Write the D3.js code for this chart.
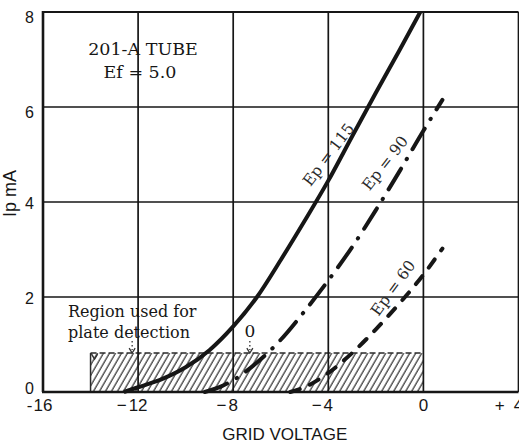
<!DOCTYPE html>
<html>
<head>
<meta charset="utf-8">
<script src="https://cdn.jsdelivr.net/npm/d3@7"></script>
<style>
  html, body { margin: 0; padding: 0; background: #fff; overflow: hidden; }
  svg { display: block; }
</style>
</head>
<body>
<svg id="chart" width="519" height="443"></svg>
<script>
// 201-A triode: plate current (mA) against grid voltage for three plate voltages

const gridTicks = [-16, -12, -8, -4, 0, 4];
const gridSigns = ["-", "−", "−", "−", "", "+"];
const gridDigits = ["16", "12", "8", "4", "0", "4"];
const ipTicks = [0, 2, 4, 6, 8];
const ipTickLabels = ["0", "2", "4", "6", "8"];

// Ep = 115 V (solid)
const ep115Grid = [-12.6, -12, -11, -10, -9, -8, -7, -6, -5, -4, -3, -2, -1, -0.13];
const ep115Ip   = [0, 0.1, 0.27, 0.52, 0.88, 1.38, 2.0, 2.78, 3.6, 4.45, 5.38, 6.3, 7.2, 8];

// Ep = 90 V (dash-dot)
const ep90Grid = [-9.2, -8.5, -8, -7, -6, -5, -4, -3, -2, -1, 0, 0.8];
const ep90Ip   = [0, 0.12, 0.25, 0.62, 1.1, 1.7, 2.35, 3.05, 3.83, 4.65, 5.5, 6.15];

// Ep = 60 V (dashed)
const ep60Grid = [-5.6, -5, -4, -3, -2, -1, 0, 0.8];
const ep60Ip   = [0, 0.1, 0.4, 0.82, 1.32, 1.87, 2.47, 3.02];

const seriesNames = ["Ep = 115", "Ep = 90", "Ep = 60"];
const seriesLabelAt = [[-4.0, 5.0], [-1.62, 4.82], [-1.28, 2.19]];
const seriesLabelAngle = [-53, -52, -54];

// Plate-detection operating region
const detectionGrid = [-14, 0];
const detectionIp = 0.82;

const svg = d3.select("#chart");
const ink = "#161616";

const x = d3.scaleLinear().domain([-16, 4]).range([43, 518.5]);
const y = d3.scaleLinear().domain([0, 8]).range([392, 12]);

// hatch pattern
const defs = svg.append("defs");
const pat = defs.append("pattern")
  .attr("id", "hatch")
  .attr("patternUnits", "userSpaceOnUse")
  .attr("width", 5.2).attr("height", 10)
  .attr("patternTransform", "rotate(30)");
pat.append("line")
  .attr("x1", 1).attr("y1", -2).attr("x2", 1).attr("y2", 12)
  .attr("stroke", "#2e2e2e").attr("stroke-width", 1.2);

// hatched detection region
svg.append("rect")
  .attr("x", x(detectionGrid[0]))
  .attr("y", y(detectionIp))
  .attr("width", x(detectionGrid[1]) - x(detectionGrid[0]))
  .attr("height", y(0) - y(detectionIp))
  .attr("fill", "url(#hatch)");
svg.append("line")
  .attr("x1", x(detectionGrid[0])).attr("x2", x(detectionGrid[1]))
  .attr("y1", y(detectionIp)).attr("y2", y(detectionIp))
  .attr("stroke", "#2a2a2a").attr("stroke-width", 1.5)
  .attr("stroke-dasharray", "6,3");
svg.append("line")
  .attr("x1", x(detectionGrid[0])).attr("x2", x(detectionGrid[0]))
  .attr("y1", y(detectionIp)).attr("y2", y(0))
  .attr("stroke", "#2a2a2a").attr("stroke-width", 1.5);

// grid
svg.append("g").selectAll("line").data(gridTicks.slice(1)).join("line")
  .attr("x1", d => x(d)).attr("x2", d => x(d))
  .attr("y1", y(0)).attr("y2", y(8))
  .attr("stroke", ink).attr("stroke-width", 1.7);
svg.append("g").selectAll("line").data(ipTicks.slice(1)).join("line")
  .attr("x1", x(-16)).attr("x2", x(4))
  .attr("y1", d => y(d)).attr("y2", d => y(d))
  .attr("stroke", ink).attr("stroke-width", d => d === 8 ? 2.2 : 1.7);

// axes
svg.append("line")
  .attr("x1", x(-16)).attr("x2", x(-16)).attr("y1", y(0)).attr("y2", y(8) - 1)
  .attr("stroke", ink).attr("stroke-width", 2.6);
svg.append("line")
  .attr("x1", x(-16) - 1).attr("x2", x(4)).attr("y1", y(0)).attr("y2", y(0))
  .attr("stroke", ink).attr("stroke-width", 2.6);

// tick labels, digits centred on the grid line with the sign to their left
const tickFont = "'Liberation Sans', Arial, sans-serif";
const xt = svg.append("g").attr("font-family", tickFont).attr("font-size", 17).attr("fill", ink);
gridTicks.forEach((v, i) => {
  const d = xt.append("text").attr("x", x(v)).attr("y", 411)
    .attr("text-anchor", "middle").text(gridDigits[i]);
  if (gridSigns[i]) {
    const w = d.node().getComputedTextLength();
    const gap = gridSigns[i] === "-" ? 1 : (gridSigns[i] === "+" ? 9 : 2);
    xt.append("text").attr("x", x(v) - w / 2 - gap).attr("y", 411)
      .attr("text-anchor", "end").text(gridSigns[i]);
  }
});

const yt = svg.append("g").attr("font-family", tickFont).attr("font-size", 16).attr("fill", ink);
yt.selectAll("text").data(ipTicks).join("text")
  .attr("x", 34).attr("y", d => y(d) + (d === 0 ? -4 : d >= 6 ? 5 : 1.5))
  .attr("dy", "0.36em")
  .attr("text-anchor", "end")
  .text((d, i) => ipTickLabels[i]);

// axis titles
svg.append("text")
  .attr("x", (x(-16) + x(4)) / 2 + 4).attr("y", 440)
  .attr("text-anchor", "middle")
  .attr("font-family", tickFont).attr("font-size", 17).attr("fill", ink)
  .text("GRID VOLTAGE");
svg.append("text")
  .attr("transform", "translate(15.5,170) rotate(-90)")
  .attr("text-anchor", "end")
  .attr("font-family", tickFont).attr("font-size", 18).attr("fill", ink)
  .text("Ip mA");

// curves
const line = d3.line().x(d => x(d[0])).y(d => y(d[1])).curve(d3.curveMonotoneX);
const series = [
  { g: ep115Grid, ip: ep115Ip, dash: null, cap: "butt" },
  { g: ep90Grid, ip: ep90Ip, dash: "24,11,0.5,11", cap: "round" },
  { g: ep60Grid, ip: ep60Ip, dash: "10,11", cap: "round" }
];
series.forEach(s => {
  svg.append("path")
    .attr("d", line(s.g.map((v, i) => [v, s.ip[i]])))
    .attr("fill", "none")
    .attr("stroke", ink)
    .attr("stroke-width", 4)
    .attr("stroke-linecap", s.cap)
    .attr("stroke-dasharray", s.dash);
});

const serif = "'DejaVu Serif', 'Liberation Serif', serif";

// curve labels
seriesNames.forEach((name, i) => {
  const [gx, gi] = seriesLabelAt[i];
  svg.append("text")
    .attr("transform", `translate(${x(gx)},${y(gi)}) rotate(${seriesLabelAngle[i]})`)
    .attr("text-anchor", "middle").attr("dy", "0.35em")
    .attr("font-family", serif).attr("font-size", 15.5).attr("fill", "#2a2a2a")
    .text(name);
});

// tube caption
const cap = svg.append("g").attr("font-family", serif).attr("font-size", 17.5).attr("fill", ink)
  .attr("text-anchor", "middle");
cap.append("text").attr("x", 143).attr("y", 55).text("201-A TUBE");
cap.append("text").attr("x", 140).attr("y", 78).text("Ef = 5.0");

// region annotation
const note = svg.append("g").attr("font-family", serif).attr("font-size", 16).attr("fill", ink);
note.append("text").attr("x", 68).attr("y", 317).text("Region used for");
note.append("text").attr("x", 68).attr("y", 338).text("plate detection");
note.append("text").attr("x", x(-7.3)).attr("y", 337).attr("text-anchor", "middle")
  .attr("font-size", 17).text("0");

// dotted pointers with small arrowheads onto the region's top edge
function pointer(gx, yTop) {
  const px = x(gx), py = y(detectionIp);
  svg.append("line")
    .attr("x1", px).attr("x2", px).attr("y1", yTop).attr("y2", py - 3)
    .attr("stroke", "#333").attr("stroke-width", 1.3).attr("stroke-dasharray", "1.5,2.5");
  svg.append("path")
    .attr("d", `M${px - 3},${py - 5} L${px},${py} L${px + 3},${py - 5}`)
    .attr("fill", "none").attr("stroke", "#333").attr("stroke-width", 1.3);
}
pointer(-12.25, 341);
pointer(-7.3, 341);
svg.append("path")
  .attr("d", `M${x(-14) + 1},${y(detectionIp) + 1} L${x(-14) + 4},${y(detectionIp) + 6} L${x(-14) + 7},${y(detectionIp) + 1}`)
  .attr("fill", "none").attr("stroke", "#333").attr("stroke-width", 1.5);
</script>
</body>
</html>
